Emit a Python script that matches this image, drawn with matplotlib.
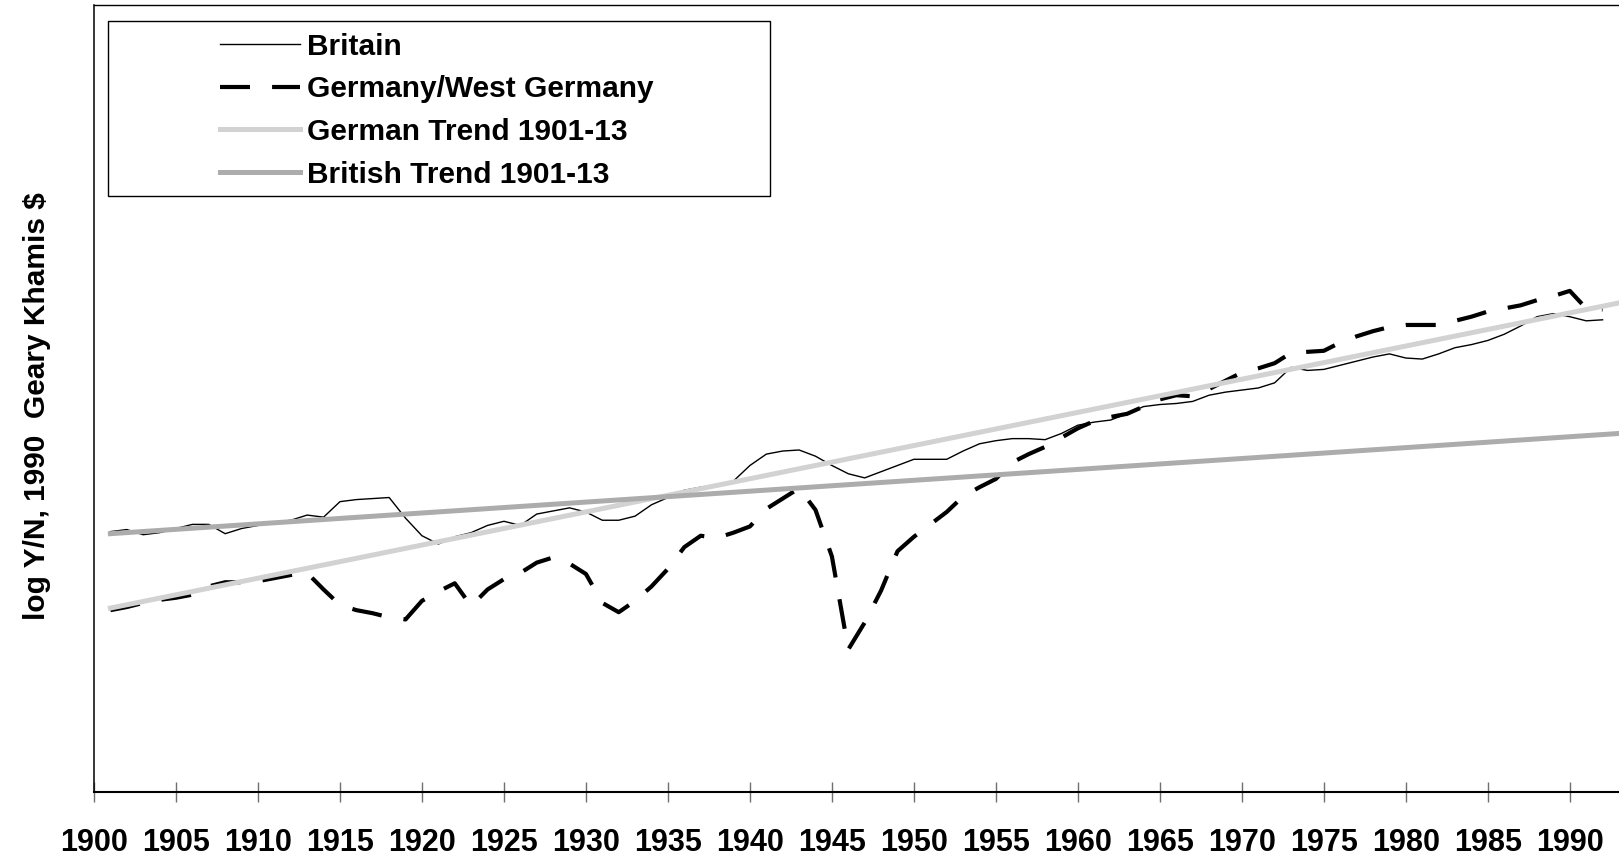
import matplotlib
matplotlib.use('Agg')
import matplotlib.pyplot as plt
import matplotlib.patches as mpatches
import numpy as np

plt.rcParams['font.family'] = ['Liberation Sans', 'DejaVu Sans']
plt.rcParams['font.weight'] = 'bold'
plt.rcParams['font.size'] = 21.5

# log Y/N (1990 Geary-Khamis $)
years = np.arange(1901, 1993)

britain = [
    8.422, 8.434, 8.404, 8.416, 8.440, 8.464, 8.464, 8.410, 8.440, 8.458,  # 1901-10
    8.476, 8.488, 8.518, 8.506, 8.596, 8.608, 8.614, 8.620, 8.500, 8.398,  # 1911-20
    8.350, 8.392, 8.416, 8.458, 8.482, 8.458, 8.524, 8.542, 8.560, 8.536,  # 1921-30
    8.488, 8.488, 8.512, 8.578, 8.620, 8.662, 8.680, 8.686, 8.716, 8.806,  # 1931-40
    8.872, 8.890, 8.896, 8.860, 8.806, 8.758, 8.734, 8.770, 8.806, 8.842,  # 1941-50
    8.842, 8.842, 8.890, 8.932, 8.950, 8.962, 8.962, 8.956, 8.992, 9.040,  # 1951-60
    9.058, 9.070, 9.106, 9.148, 9.160, 9.166, 9.178, 9.214, 9.232, 9.244,  # 1961-70
    9.256, 9.286, 9.376, 9.358, 9.364, 9.388, 9.412, 9.436, 9.454, 9.430,  # 1971-80
    9.424, 9.454, 9.490, 9.508, 9.532, 9.568, 9.616, 9.670, 9.688, 9.670,  # 1981-90
    9.646, 9.652,
]

germany = [
    7.966, 7.984, 8.008, 8.026, 8.038, 8.056, 8.104, 8.128, 8.128, 8.134,  # 1901-10
    8.152, 8.170, 8.182, 8.086, 7.996, 7.966, 7.948, 7.924, 7.912, 8.020,  # 1911-20
    8.074, 8.122, 7.990, 8.086, 8.146, 8.182, 8.242, 8.272, 8.236, 8.176,  # 1921-30
    8.008, 7.954, 8.020, 8.104, 8.206, 8.332, 8.398, 8.386, 8.416, 8.452,  # 1931-40
    8.554, 8.614, 8.674, 8.548, 8.278, 7.738, 7.894, 8.080, 8.308, 8.392,  # 1941-50
    8.464, 8.536, 8.626, 8.680, 8.728, 8.824, 8.872, 8.914, 8.968, 9.022,  # 1951-60
    9.064, 9.088, 9.106, 9.148, 9.190, 9.214, 9.208, 9.250, 9.298, 9.346,  # 1961-70
    9.370, 9.400, 9.460, 9.466, 9.472, 9.520, 9.556, 9.586, 9.610, 9.622,  # 1971-80
    9.622, 9.622, 9.646, 9.670, 9.700, 9.718, 9.736, 9.766, 9.790, 9.820,  # 1981-90
    9.718, 9.712,
]

# 1901-13 trend lines, extended to the end of the chart
trend_years = [1901, 1993]
german_trend = [7.978, 9.750]
british_trend = [8.410, 8.992]

xticks = np.arange(1900, 1991, 5)

fig = plt.figure(figsize=(16.19, 8.55), dpi=100)
fig.patch.set_facecolor('white')
ax = fig.add_axes([94 / 1619, 1 - 792 / 855, 1 - 94 / 1619, (792 - 5) / 855])

ax.plot(years, britain, color='black', lw=1.0, label='Britain')
ax.plot(years, germany, color='black', lw=3.0, dashes=(7.2, 5.3), label='Germany/West Germany')
ax.plot(trend_years, german_trend, color='#d2d2d2', lw=3.6, label='German Trend 1901-13')
ax.plot(trend_years, british_trend, color='#acacac', lw=3.6, label='British Trend 1901-13')

ax.set_xlim(1900, 1993)
ax.set_ylim(6.91, 11.48)
ax.set_xticks(xticks)
ax.set_xticklabels([str(y) for y in xticks], fontweight='bold', fontsize=22)
ax.set_yticks([])
ax.tick_params(axis='x', direction='inout', length=14.5, width=1.0, color='#707070', pad=18.5)

ax.spines['right'].set_visible(False)
ax.spines['left'].set_linewidth(1.1)
ax.spines['top'].set_linewidth(1.0)
ax.spines['bottom'].set_linewidth(1.5)
for s in ['left', 'top', 'bottom']:
    ax.spines[s].set_color('black')

fig.text(37 / 1619, 1 - 406 / 855, 'log Y/N, 1990  Geary Khamis $', rotation=90,
         ha='center', va='center', fontweight='bold')

leg = ax.legend(loc='upper left', bbox_to_anchor=(0.0826, 0.9649), frameon=False,
                handlelength=2.68, handletextpad=0.23, labelspacing=0.49,
                borderaxespad=0, borderpad=0, prop={'weight': 'bold', 'size': 21.5})
ax.add_patch(mpatches.Rectangle((0.0092, 0.757), 0.4341, 0.223, transform=ax.transAxes,
                                fill=False, edgecolor='black', lw=1.0, clip_on=False, zorder=5))

plt.savefig('out.png', dpi=100, facecolor='white')
plt.close()
